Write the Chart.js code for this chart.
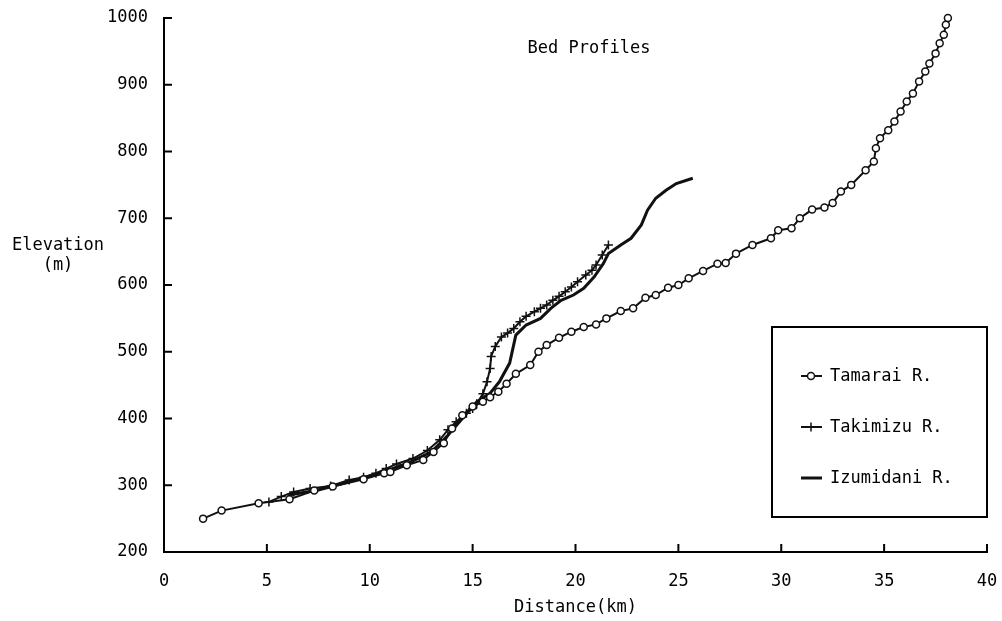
<!DOCTYPE html>
<html>
<head>
<meta charset="utf-8">
<script src="https://cdn.jsdelivr.net/npm/chart.js@4/dist/chart.umd.min.js"></script>
<style>
  html, body { margin: 0; padding: 0; background: #fff; }
  #wrap { position: relative; width: 1002px; height: 621px; }
  .lbl { position: absolute; font-family: "DejaVu Sans Mono", monospace; font-size: 17px; color: #000; text-align: center; line-height: 20px; }
</style>
</head>
<body>
<div id="wrap">
  <canvas id="chart" width="1002" height="621"></canvas>
  <div class="lbl" style="left:489px; top:37px; width:200px;">Bed Profiles</div>
  <div class="lbl" style="left:0; top:234px; width:116px;">Elevation<br>(m)</div>
</div>
<script>
// distance (km) / elevation (m)
const tamaraiKm = [1.9, 2.8, 4.6, 6.1, 7.3, 8.2, 9.7, 10.7, 11.0, 11.8, 12.6, 13.1, 13.6, 14.0, 14.5, 15.0, 15.5, 15.85, 16.25, 16.65, 17.1, 17.8, 18.2, 18.6, 19.2, 19.8, 20.4, 21.0, 21.5, 22.2, 22.8, 23.4, 23.9, 24.5, 25.0, 25.5, 26.2, 26.9, 27.3, 27.8, 28.6, 29.5, 29.85, 30.5, 30.9, 31.5, 32.1, 32.5, 32.9, 33.4, 34.1, 34.5, 34.6, 34.8, 35.2, 35.5, 35.8, 36.1, 36.4, 36.7, 37.0, 37.2, 37.5, 37.7, 37.9, 38.0, 38.1];
const tamaraiElev = [250, 262, 273, 279, 292, 298, 309, 318, 320, 330, 338, 350, 363, 385, 405, 418, 425, 432, 440, 452, 467, 480, 500, 510, 521, 530, 537, 541, 550, 561, 565, 581, 585, 596, 600, 610, 621, 632, 633, 647, 660, 670, 682, 685, 700, 713, 716, 723, 740, 750, 772, 785, 805, 820, 832, 845, 860, 875, 887, 905, 920, 932, 947, 962, 975, 990, 1000];

const takimizuKm = [5.1, 5.7, 6.3, 7.1, 8.1, 9.0, 9.7, 10.3, 10.8, 11.3, 12.1, 12.8, 13.4, 13.8, 14.2, 14.7, 15.0, 15.2, 15.5, 15.7, 15.85, 15.9, 16.1, 16.4, 16.7, 17.0, 17.3, 17.6, 18.0, 18.3, 18.6, 18.9, 19.2, 19.5, 19.8, 20.1, 20.5, 20.8, 21.0, 21.3, 21.6];
const takimizuElev = [275, 283, 290, 295, 299, 308, 312, 318, 325, 332, 340, 352, 368, 383, 395, 408, 415, 422, 437, 455, 475, 493, 508, 522, 528, 535, 545, 553, 560, 565, 570, 577, 583, 590, 597, 605, 615, 622, 630, 645, 660];

const izumidaniKm = [6.0, 7.5, 9.0, 10.5, 12.0, 13.0, 13.8, 14.5, 15.0, 15.2, 15.85, 16.3, 16.8, 17.1, 17.6, 18.3, 18.8, 19.3, 19.9, 20.4, 20.9, 21.35, 21.6, 22.2, 22.7, 23.2, 23.5, 23.9, 24.4, 24.9, 25.7];
const izumidaniElev = [285, 293, 305, 318, 335, 350, 375, 400, 418, 425, 438, 455, 483, 525, 540, 550, 565, 577, 585, 595, 612, 632, 647, 660, 670, 690, 712, 730, 742, 752, 760];

const xTicks = [0, 5, 10, 15, 20, 25, 30, 35, 40];
const yTicks = [200, 300, 400, 500, 600, 700, 800, 900, 1000];

const FONT = "'DejaVu Sans Mono', monospace";
const pts = (xs, ys) => xs.map((x, i) => ({ x: x, y: ys[i] }));

// small tick marks pointing into the plot
const insideTicks = {
  id: 'insideTicks',
  afterDraw(chart) {
    const { ctx, chartArea: a, scales: { x, y } } = chart;
    ctx.save();
    ctx.strokeStyle = '#000';
    ctx.lineWidth = 2;
    ctx.beginPath();
    x.ticks.forEach(t => {
      const px = x.getPixelForValue(t.value);
      ctx.moveTo(px, a.bottom); ctx.lineTo(px, a.bottom - 8);
    });
    y.ticks.forEach(t => {
      const py = y.getPixelForValue(t.value);
      ctx.moveTo(a.left, py); ctx.lineTo(a.left + 8, py);
    });
    ctx.stroke();
    ctx.restore();
  }
};

// boxed legend in the lower right
const boxLegend = {
  id: 'boxLegend',
  afterDraw(chart) {
    const ctx = chart.ctx;
    ctx.save();
    ctx.lineWidth = 2;
    ctx.strokeStyle = '#000';
    ctx.strokeRect(772, 327, 215, 190);
    ctx.font = '17px ' + FONT;
    ctx.textBaseline = 'middle';
    ctx.textAlign = 'left';
    chart.data.datasets.forEach((ds, i) => {
      const yy = 376 + i * 51;
      ctx.strokeStyle = ds.borderColor;
      ctx.lineWidth = ds.borderWidth;
      ctx.beginPath(); ctx.moveTo(801, yy); ctx.lineTo(822, yy); ctx.stroke();
      if (ds.pointRadius > 0) {
        ctx.fillStyle = ds.pointBackgroundColor;
        ctx.strokeStyle = ds.pointBorderColor;
        ctx.lineWidth = ds.pointBorderWidth;
        Chart.helpers.drawPoint(ctx, { pointStyle: ds.pointStyle, radius: ds.pointRadius, borderWidth: ds.pointBorderWidth, rotation: 0 }, 811, yy);
      }
      ctx.fillStyle = '#000';
      ctx.fillText(ds.label, 830, yy + 1);
    });
    ctx.restore();
  }
};

new Chart(document.getElementById('chart'), {
  type: 'scatter',
  data: {
    datasets: [
      {
        label: 'Tamarai R.',
        data: pts(tamaraiKm, tamaraiElev),
        showLine: true,
        clip: false,
        borderColor: '#111',
        borderWidth: 2,
        pointStyle: 'circle',
        pointRadius: 3.5,
        pointBorderWidth: 1.5,
        pointBackgroundColor: '#fff',
        pointBorderColor: '#111'
      },
      {
        label: 'Takimizu R.',
        data: pts(takimizuKm, takimizuElev),
        showLine: true,
        clip: false,
        borderColor: '#111',
        borderWidth: 2,
        pointStyle: 'cross',
        pointRadius: 4.5,
        pointBorderWidth: 1.5,
        pointBackgroundColor: '#111',
        pointBorderColor: '#111'
      },
      {
        label: 'Izumidani R.',
        data: pts(izumidaniKm, izumidaniElev),
        showLine: true,
        clip: false,
        borderColor: '#111',
        borderWidth: 3,
        pointRadius: 0
      }
    ]
  },
  options: {
    responsive: false,
    animation: false,
    layout: { padding: { top: 18, right: 15, left: 0, bottom: 0 } },
    plugins: { legend: { display: false }, tooltip: { enabled: false } },
    scales: {
      x: {
        type: 'linear',
        min: 0, max: 40,
        afterBuildTicks: s => { s.ticks = xTicks.map(v => ({ value: v })); },
        ticks: { padding: 0, color: '#000', font: { family: FONT, size: 17 }, callback: v => String(v) },
        grid: { display: false, drawTicks: true, tickLength: 19 },
        border: { color: '#000', width: 2 },
        title: { display: true, text: 'Distance(km)', color: '#000', font: { family: FONT, size: 17 }, padding: { top: 0, bottom: 3 } },
        afterFit: s => { s.height = 69; }
      },
      y: {
        type: 'linear',
        min: 200, max: 1000,
        afterBuildTicks: s => { s.ticks = yTicks.map(v => ({ value: v })); },
        ticks: { padding: 0, color: '#000', font: { family: FONT, size: 17 }, callback: v => String(v) },
        grid: { display: false, drawTicks: true, tickLength: 16 },
        border: { color: '#000', width: 2 },
        afterFit: s => { s.width = 164; }
      }
    }
  },
  plugins: [insideTicks, boxLegend]
});
</script>
</body>
</html>
